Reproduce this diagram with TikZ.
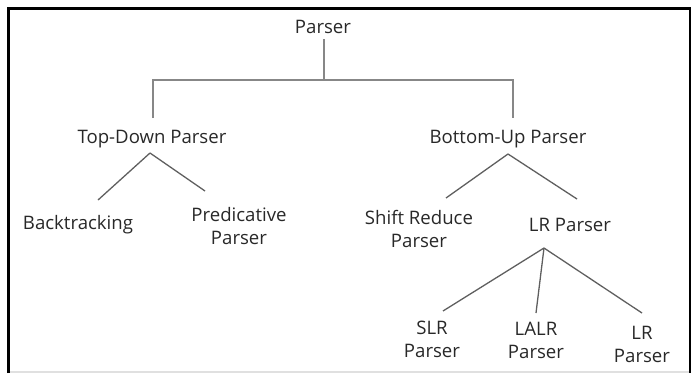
\documentclass[tikz,border=0pt]{standalone}
\usepackage{fontspec}
\setmainfont{Open Sans}
\usepackage{tikz}
\usetikzlibrary{calc, positioning}
\usepackage{xcolor}
\definecolor{ink}{RGB}{40,40,40}
\definecolor{branch}{RGB}{95,95,95}
\definecolor{bracket}{RGB}{135,135,135}

\begin{document}
\begin{tikzpicture}[x=1pt, y=-1pt]
				\tikzstyle{txt} = [draw=none, text=ink, align=center, inner sep=0pt, font=\fontsize{18.6}{23}\selectfont]
				\tikzstyle{branchline} = [draw=branch, line width=1.3pt]
				\tikzstyle{bracketline} = [draw=bracket, line width=1.8pt]
				
				\useasboundingbox (0,0) rectangle (691,373);
				% frame
				\draw[black, line width=2.6pt] (8.5,373) -- (8.5,8.5) -- (690,8.5) -- (690,373);
				\draw[black!12, line width=2pt] (10,372) -- (689,372);
				
				% nodes
				\node[txt] 			at (323, 26.5)		(parser) 	{Parser};
				\node[txt] 			at (152, 138.7)		(topdown) 	{Top-Down Parser};
				\node[txt] 			at (508, 138.7)		(bottomup) 	{Bottom-Up Parser};
				\node[txt] 			at (78, 224.3)		(backtrack) 	{Backtracking};
				\node[txt] 			at (239, 226)		(predict) 	{Predicative\\Parser};
				\node[txt] 			at (419, 228.5)		(shiftred) 	{Shift Reduce\\Parser};
				\node[txt] 			at (570, 224.7)		(lrparser) 	{LR Parser};
				\node[txt] 			at (432, 339.5)		(slr) 		{SLR\\Parser};
				\node[txt] 			at (536, 340.5)		(lalr) 		{LALR\\Parser};
				\node[txt] 			at (642, 344.5)		(clr) 		{LR\\Parser};
				
				% fork points and line ends
				\coordinate (rootfork) at (324, 39);
				\coordinate (rootbar) 	at (324, 80);
				\coordinate (tdfoot) 	at (153, 118);
				\coordinate (bufoot) 	at (513, 118);
				\coordinate (tdfork) 	at (150, 153);
				\coordinate (tdleft) 	at (98, 200);
				\coordinate (tdright) 	at (205, 191);
				\coordinate (bufork) 	at (508, 154);
				\coordinate (buleft) 	at (446, 198);
				\coordinate (buright) 	at (577, 199);
				\coordinate (lrfork) 	at (544, 248);
				\coordinate (lrleft) 	at (443, 311);
				\coordinate (lrmid) 	at (536, 313);
				\coordinate (lrright) 	at (642, 313);
				
				\path[bracketline]
				(rootfork) edge (rootbar)
				(tdfoot) -- (tdfoot |- rootbar) -- (bufoot |- rootbar) -- (bufoot);
				
				\path[branchline]
				(tdfork) edge (tdleft)
				(tdfork) edge (tdright)
				(bufork) edge (buleft)
				(bufork) edge (buright)
				(lrfork) edge (lrleft)
				(lrfork) edge (lrmid)
				(lrfork) edge (lrright);
			\end{tikzpicture}
\end{document}
